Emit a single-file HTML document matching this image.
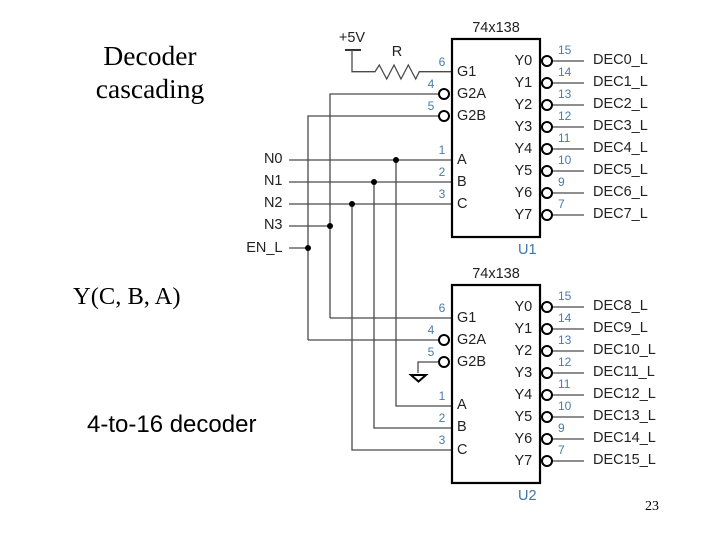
<!DOCTYPE html>
<html>
<head>
<meta charset="utf-8">
<style>
html,body{margin:0;padding:0;background:#fff;width:720px;height:540px;overflow:hidden}
svg{display:block}
.w{fill:none;stroke:#4a4a4a;stroke-width:1.3}
.b{fill:#fff;stroke:#000;stroke-width:2}
.box{fill:#fff;stroke:#000;stroke-width:2.2}
.t{font-family:"Liberation Sans",sans-serif;font-size:14.5px;fill:#222}
.p{font-family:"Liberation Sans",sans-serif;font-size:12px;fill:#4a7ba8}
.u{font-family:"Liberation Sans",sans-serif;font-size:14.5px;fill:#3f75a8}
.m{text-anchor:middle}
.e{text-anchor:end}
.s{font-family:"Liberation Serif",serif;fill:#000}
</style>
</head>
<body>
<svg width="720" height="540" viewBox="0 0 720 540" xmlns="http://www.w3.org/2000/svg">
<!-- slide text -->
<text class="s m" x="150" y="65" font-size="27.5">Decoder</text>
<text class="s m" x="150" y="98" font-size="27.5">cascading</text>
<text class="s" x="73" y="304" font-size="24.5">Y(C, B, A)</text>
<text x="87" y="432" font-family="Liberation Sans,sans-serif" font-size="24" fill="#000">4-to-16 decoder</text>
<text class="s m" x="652" y="510" font-size="14">23</text>

<!-- wires -->
<path class="w" d="M308 340V116H440M330 318V94H440M289 160H452M289 182H452M289 204H452M289 226H330M289 248H308M396 160V406H452M374 182V428H452M352 204V450H452M330 318H452M308 340H440"/>
<!-- power -->
<path fill="none" stroke="#000" stroke-width="1.6" d="M345 50H361"/>
<path class="w" d="M352 50V71.7H375L379.3 65L386.7 79L394 65L401 79L408.3 65L415.7 79L419.3 71.7H452"/>
<!-- ground -->
<path class="w" d="M438 362H418V373"/>
<path fill="none" stroke="#000" stroke-width="2" d="M411 375H426L418.500 381.500Z"/>

<!-- output wires -->
<path class="w" d="M552 61H584M552 83H584M552 105H584M552 127H584M552 149H584M552 171H584M552 193H584M552 215H584"/>
<path class="w" d="M552 307H584M552 329H584M552 351H584M552 373H584M552 395H584M552 417H584M552 439H584M552 461H584"/>

<!-- chips -->
<rect class="box" x="452" y="39" width="88" height="198"/>
<rect class="box" x="452" y="285" width="88" height="198"/>

<!-- dots -->
<g fill="#000">
<circle cx="396" cy="160" r="3"/><circle cx="374" cy="182" r="3"/><circle cx="352" cy="204" r="3"/><circle cx="330" cy="226" r="3"/><circle cx="308" cy="248" r="3"/>
</g>

<!-- bubbles -->
<g class="b">
<circle cx="444" cy="94" r="5"/><circle cx="444" cy="116" r="5"/>
<circle cx="444" cy="340" r="5"/><circle cx="444" cy="362" r="5"/>
<circle cx="547" cy="61" r="5"/><circle cx="547" cy="83" r="5"/><circle cx="547" cy="105" r="5"/><circle cx="547" cy="127" r="5"/><circle cx="547" cy="149" r="5"/><circle cx="547" cy="171" r="5"/><circle cx="547" cy="193" r="5"/><circle cx="547" cy="215" r="5"/>
<circle cx="547" cy="307" r="5"/><circle cx="547" cy="329" r="5"/><circle cx="547" cy="351" r="5"/><circle cx="547" cy="373" r="5"/><circle cx="547" cy="395" r="5"/><circle cx="547" cy="417" r="5"/><circle cx="547" cy="439" r="5"/><circle cx="547" cy="461" r="5"/>
</g>

<!-- misc labels -->
<text class="t m" x="352" y="42">+5V</text>
<text class="t m" x="397" y="56">R</text>
<text class="t m" x="496" y="32">74x138</text>
<text class="t m" x="496" y="278">74x138</text>
<text class="u" x="518" y="254">U1</text>
<text class="u" x="518" y="500">U2</text>

<!-- input names -->
<text class="t e" x="282.500" y="163">N0</text>
<text class="t e" x="282.500" y="185">N1</text>
<text class="t e" x="282.500" y="207">N2</text>
<text class="t e" x="282.500" y="229">N3</text>
<text class="t e" x="282.500" y="252">EN_L</text>

<!-- chip 1 left -->
<text class="t" x="457" y="76">G1</text>
<text class="t" x="457" y="98">G2A</text>
<text class="t" x="457" y="120">G2B</text>
<text class="t" x="457" y="164">A</text>
<text class="t" x="457" y="186">B</text>
<text class="t" x="457" y="208">C</text>
<!-- chip 2 left -->
<text class="t" x="457" y="322">G1</text>
<text class="t" x="457" y="344">G2A</text>
<text class="t" x="457" y="366">G2B</text>
<text class="t" x="457" y="409">A</text>
<text class="t" x="457" y="431">B</text>
<text class="t" x="457" y="454">C</text>

<!-- chip 1 right -->
<text class="t" x="514.500" y="65">Y0</text>
<text class="t" x="514.500" y="87">Y1</text>
<text class="t" x="514.500" y="109">Y2</text>
<text class="t" x="514.500" y="131">Y3</text>
<text class="t" x="514.500" y="153">Y4</text>
<text class="t" x="514.500" y="175">Y5</text>
<text class="t" x="514.500" y="197">Y6</text>
<text class="t" x="514.500" y="219">Y7</text>
<!-- chip 2 right -->
<text class="t" x="514.500" y="311">Y0</text>
<text class="t" x="514.500" y="333">Y1</text>
<text class="t" x="514.500" y="355">Y2</text>
<text class="t" x="514.500" y="377">Y3</text>
<text class="t" x="514.500" y="399">Y4</text>
<text class="t" x="514.500" y="421">Y5</text>
<text class="t" x="514.500" y="443">Y6</text>
<text class="t" x="514.500" y="465">Y7</text>

<!-- outputs -->
<text class="t" x="593" y="64">DEC0_L</text>
<text class="t" x="593" y="86">DEC1_L</text>
<text class="t" x="593" y="108">DEC2_L</text>
<text class="t" x="593" y="130">DEC3_L</text>
<text class="t" x="593" y="152">DEC4_L</text>
<text class="t" x="593" y="174">DEC5_L</text>
<text class="t" x="593" y="196">DEC6_L</text>
<text class="t" x="593" y="218">DEC7_L</text>
<text class="t" x="593" y="310">DEC8_L</text>
<text class="t" x="593" y="332">DEC9_L</text>
<text class="t" x="593" y="354">DEC10_L</text>
<text class="t" x="593" y="376">DEC11_L</text>
<text class="t" x="593" y="398">DEC12_L</text>
<text class="t" x="593" y="420">DEC13_L</text>
<text class="t" x="593" y="442">DEC14_L</text>
<text class="t" x="593" y="464">DEC15_L</text>

<!-- pin numbers left -->
<text class="p m" x="442" y="66">6</text>
<text class="p m" x="431" y="88">4</text>
<text class="p m" x="431" y="110">5</text>
<text class="p m" x="442" y="154">1</text>
<text class="p m" x="442" y="176">2</text>
<text class="p m" x="442" y="198">3</text>
<text class="p m" x="442" y="312">6</text>
<text class="p m" x="431" y="334">4</text>
<text class="p m" x="431" y="356">5</text>
<text class="p m" x="442" y="400">1</text>
<text class="p m" x="442" y="422">2</text>
<text class="p m" x="442" y="444">3</text>

<!-- pin numbers right -->
<text class="p" x="558" y="54">15</text>
<text class="p" x="558" y="76">14</text>
<text class="p" x="558" y="98">13</text>
<text class="p" x="558" y="120">12</text>
<text class="p" x="558" y="142">11</text>
<text class="p" x="558" y="164">10</text>
<text class="p" x="558" y="186">9</text>
<text class="p" x="558" y="208">7</text>
<text class="p" x="558" y="300">15</text>
<text class="p" x="558" y="322">14</text>
<text class="p" x="558" y="344">13</text>
<text class="p" x="558" y="366">12</text>
<text class="p" x="558" y="388">11</text>
<text class="p" x="558" y="410">10</text>
<text class="p" x="558" y="432">9</text>
<text class="p" x="558" y="454">7</text>
</svg>
</body>
</html>
